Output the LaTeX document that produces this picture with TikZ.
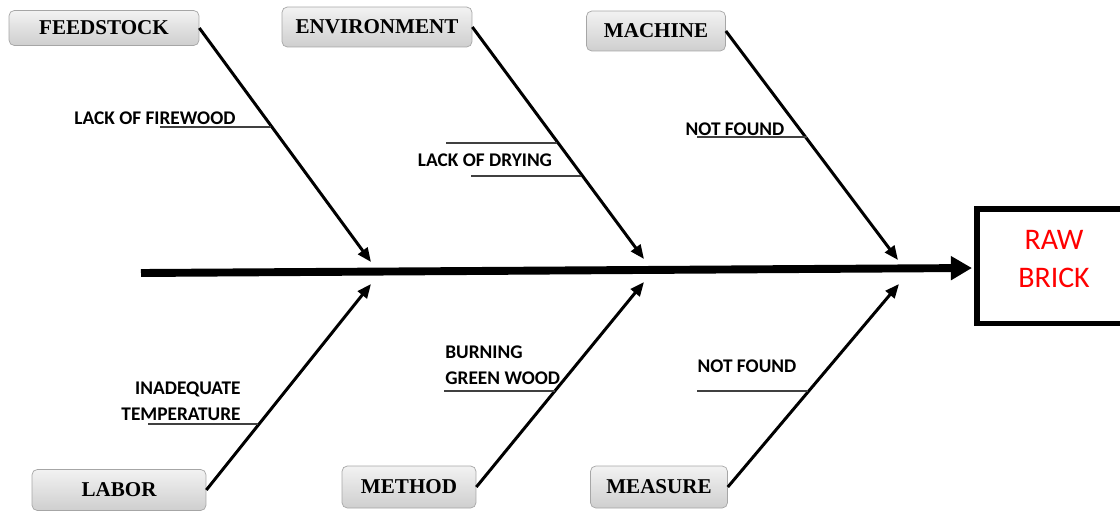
\documentclass[tikz,border=0pt]{standalone}
\usepackage{fontspec}
\setmainfont{Liberation Serif}
\newfontfamily\calib{Carlito}
\usetikzlibrary{arrows.meta}

\begin{document}
\begin{tikzpicture}[x=0.02cm,y=-0.02cm,
    cat/.style={draw=gray!70,rounded corners=3pt,top color=gray!10,bottom color=gray!38,
        font=\bfseries\fontsize{12}{14}\selectfont,inner sep=2pt},
    bone/.style={line width=1.7pt,-{Triangle[length=8pt,width=6.5pt]}},
    spine/.style={line width=4.5pt,-{Triangle[length=12pt,width=13pt]}},
    sub/.style={black!75,line width=0.8pt},
    cause/.style={font=\calib\bfseries\fontsize{11}{14.7}\selectfont,inner sep=0pt}]
    \useasboundingbox (0,0) rectangle (1120,511);
%    \draw[gray!30, step=50] (0,0) grid (1120,511);

% effect and spine
\node[draw,line width=3.4pt,minimum width=3.1cm,minimum height=2.3cm,align=center,text depth=8pt,
    text=red,font=\calib\fontsize{17}{21.5}\selectfont] (brick) at (1054,266) {RAW\\BRICK};
\coordinate (tail) at (141,273);
\coordinate (head) at (972,268);
\draw[spine] (tail) -- (head);

% top categories
\node[cat,minimum width=3.8cm,minimum height=0.7cm] (feed) at (104,28) {FEEDSTOCK};
\node[cat,minimum width=3.8cm,minimum height=0.8cm] (env) at (377,27) {ENVIRONMENT};
\node[cat,minimum width=2.78cm,minimum height=0.8cm] (mach) at (656,31) {MACHINE};

\coordinate (feedtip) at (371,262);
\coordinate (envtip) at (644,259);
\coordinate (machtip) at (898,260);
\draw[bone] (feed.east) -- (feedtip);
\draw[bone] (env.east) -- (envtip);
\draw[bone] (mach.east) -- (machtip);

% bottom categories
\node[cat,minimum width=3.48cm,minimum height=0.82cm] (labor) at (119,490) {LABOR};
\node[cat,minimum width=2.68cm,minimum height=0.84cm] (meth) at (409,487) {METHOD};
\node[cat,minimum width=2.74cm,minimum height=0.84cm] (meas) at (659,487) {MEASURE};

\coordinate (labortip) at (371,284);
\coordinate (methtip) at (644,282);
\coordinate (meastip) at (899,284);
\draw[bone] (labor.east) -- (labortip);
\draw[bone] (meth.east) -- (methtip);
\draw[bone] (meas.east) -- (meastip);

% causes
\node[cause] (firewood) at (155,118) {LACK OF FIREWOOD};
\draw[sub] (160,127) -- (271,127);

\node[cause] (drying) at (485,160) {LACK OF DRYING};
\draw[sub] (446,143) -- (557,143);
\draw[sub] (471,176) -- (581,176);

\node[cause] (machnf) at (735,129) {NOT FOUND};
\draw[sub] (697,137) -- (807,137);

\node[cause,align=right,anchor=east] (temp) at (241,401) {INADEQUATE\\TEMPERATURE};
\draw[sub] (148,424) -- (258,424);

\node[cause,align=left,anchor=west] (green) at (445,365) {BURNING\\GREEN WOOD};
\draw[sub] (444,391) -- (555,391);

\node[cause] (measnf) at (747,366) {NOT FOUND};
\draw[sub] (697,391) -- (808,391);

\end{tikzpicture}
\end{document}
